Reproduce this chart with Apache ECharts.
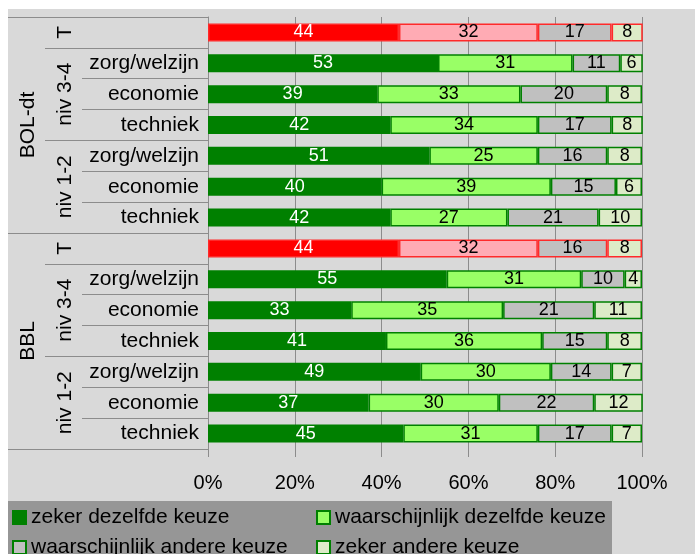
<!DOCTYPE html>
<html>
<head>
<meta charset="utf-8">
<script src="https://cdn.jsdelivr.net/npm/echarts@6/dist/echarts.min.js"></script>
<style>
  html, body { margin: 0; padding: 0; background: #ffffff; }
  #chart { position: absolute; left: 8px; top: 9px; width: 687px; height: 545px; }
</style>
</head>
<body>
<div id="chart"></div>
<script>
(function() {
  // rows, top to bottom
  var categories = ['', 'zorg/welzijn', 'economie', 'techniek', 'zorg/welzijn', 'economie', 'techniek',
                    '', 'zorg/welzijn', 'economie', 'techniek', 'zorg/welzijn', 'economie', 'techniek'];
  var level2Names = ['T', 'niv 3-4', 'niv 1-2', 'T', 'niv 3-4', 'niv 1-2'];
  var level2Spans = [1, 3, 3, 1, 3, 3];
  var level1Names = ['BOL-dt', 'BBL'];
  var level1Spans = [7, 7];

  var seriesNames = ['zeker dezelfde keuze', 'waarschijnlijk dezelfde keuze',
                     'waarschijnlijk andere keuze', 'zeker andere keuze'];
  var zekerDezelfde = [44, 53, 39, 42, 51, 40, 42, 44, 55, 33, 41, 49, 37, 45];
  var waarschDezelfde = [32, 31, 33, 34, 25, 39, 27, 32, 31, 35, 36, 30, 30, 31];
  var waarschAndere = [17, 11, 20, 17, 16, 15, 21, 16, 10, 21, 15, 14, 22, 17];
  var zekerAndere = [8, 6, 8, 8, 8, 6, 10, 8, 4, 11, 8, 7, 12, 7];

  var xTicks = [0, 20, 40, 60, 80, 100];

  var green = '#008000';
  var fills = [green, '#99ff66', '#c0c0c0', '#ddebc8'];
  var tFills = ['#ff0000', '#ffabb4', '#c0c0c0', '#ddebc8'];
  var tBorder = '#ff2a2a';
  var lineCol = '#8c8c8c';
  var font = '"Liberation Sans", Arial, sans-serif';

  // group helpers
  function groupLabels(names, spans) {
    var out = [], start = 0;
    for (var i = 0; i < categories.length; i++) out.push('');
    names.forEach(function(n, i) {
      out[start + Math.floor(spans[i] / 2)] = n;
      start += spans[i];
    });
    return out;
  }
  function groupStarts(spans) {
    var out = {}, start = 0;
    spans.forEach(function(s) { out[start] = true; start += s; });
    return out;
  }
  var lvl2 = groupLabels(level2Names, level2Spans);
  var lvl1 = groupLabels(level1Names, level1Spans);
  var lvl2Starts = groupStarts(level2Spans);
  var lvl1Starts = groupStarts(level1Spans);
  var tRows = {};
  lvl2.forEach(function(n, i) { if (n === 'T') tRows[i] = true; });

  var values = [zekerDezelfde, waarschDezelfde, waarschAndere, zekerAndere];

  var series = values.map(function(vals, s) {
    return {
      name: seriesNames[s],
      type: 'bar',
      stack: 'total',
      barWidth: 18,
      animation: false,
      itemStyle: { color: fills[s], borderColor: green, borderWidth: 1.5 },
      label: {
        show: true,
        position: 'inside',
        color: s === 0 ? '#ffffff' : '#000000',
        fontFamily: font,
        fontSize: 18
      },
      data: vals.map(function(v, i) {
        if (tRows[i]) {
          return { value: v, itemStyle: { color: tFills[s], borderColor: tBorder, borderWidth: 1.5 } };
        }
        return v;
      })
    };
  });

  var chart = echarts.init(document.getElementById('chart'), null, { renderer: 'canvas' });

  function yAxis(data, tickLen, tickFn, labelOpts) {
    return {
      type: 'category',
      inverse: true,
      position: 'left',
      data: data,
      axisLine: { show: false },
      axisTick: {
        show: true, length: tickLen, interval: tickFn,
        lineStyle: { color: lineCol, width: 1 }
      },
      axisLabel: Object.assign({
        interval: 0,
        color: '#000000',
        fontFamily: font,
        fontSize: 21
      }, labelOpts),
      splitLine: { show: false }
    };
  }

  function legend(names, left) {
    return {
      data: names,
      icon: 'rect',
      orient: 'vertical', left: left, top: 498, height: 80, padding: 0,
      itemWidth: 13, itemHeight: 13, itemGap: 9,
      textStyle: { fontFamily: font, fontSize: 21, lineHeight: 20, color: '#000000' }
    };
  }

  chart.setOption({
    backgroundColor: '#d9d9d9',
    grid: { left: 200, right: 53, top: 8, bottom: 105, containLabel: false, outerBoundsMode: 'none' },
    xAxis: {
      type: 'value',
      min: xTicks[0],
      max: xTicks[xTicks.length - 1],
      interval: xTicks[1] - xTicks[0],
      axisLine: { show: false },
      axisTick: { show: true, length: 8, lineStyle: { color: lineCol } },
      axisLabel: {
        formatter: '{value}%', color: '#000000', fontFamily: font, fontSize: 20, margin: 24
      },
      splitLine: { show: true, lineStyle: { color: lineCol, width: 1 } }
    },
    yAxis: [
      Object.assign(yAxis(categories, 126, function() { return true; }, { margin: 9 }),
        { axisLine: { show: true, lineStyle: { color: lineCol } } }),
      yAxis(lvl2, 163, function(i) { return !!lvl2Starts[i]; }, { rotate: 90, margin: 132 }),
      yAxis(lvl1, 200, function(i) { return !!lvl1Starts[i]; }, { rotate: 90, margin: 169 })
    ],
    legend: [
      legend([seriesNames[0], seriesNames[2]], 4),
      legend([seriesNames[1], seriesNames[3]], 308)
    ],
    graphic: [{
      type: 'rect', z: -10, silent: true,
      shape: { x: 0, y: 492, width: 604, height: 60 },
      style: { fill: '#969696' }
    }],
    series: series
  });

  window.addEventListener('resize', function() { chart.resize(); });
})();
</script>
</body>
</html>
